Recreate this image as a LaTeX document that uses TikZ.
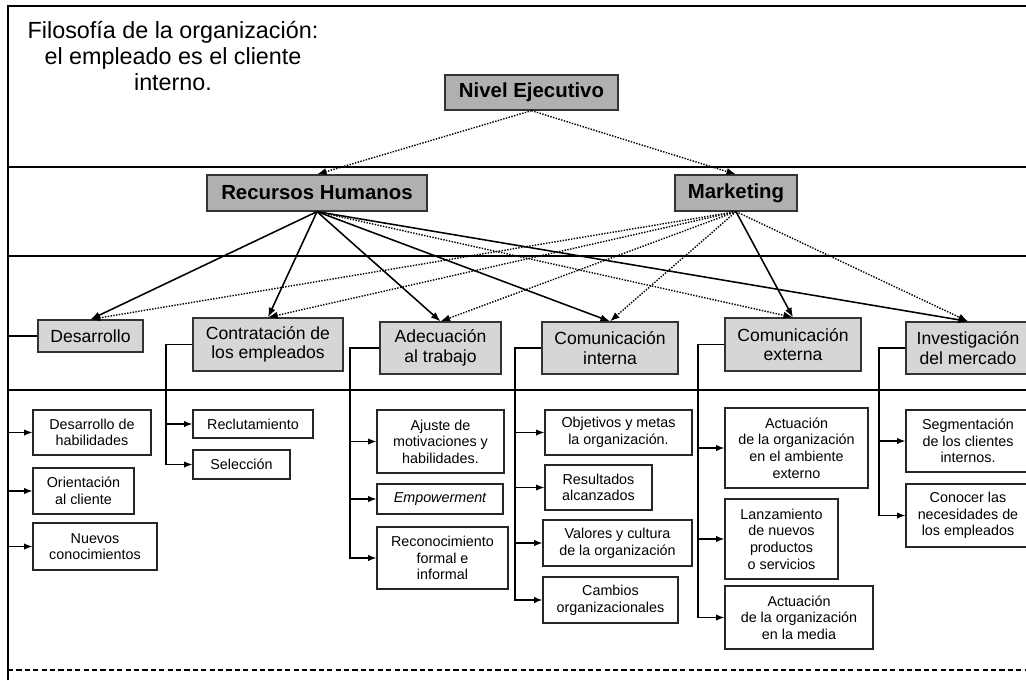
\documentclass[tikz,border=0pt]{standalone}
\usepackage{fontspec}
\setmainfont{Liberation Sans}
\usetikzlibrary{arrows.meta}

\begin{document}
\begin{tikzpicture}[x=0.025cm,y=-0.025cm,
    nivelbox/.style={draw=black!80, fill=gray!62, line width=0.9pt, font=\bfseries\fontsize{14.5}{16}\selectfont, inner sep=1pt},
    areabox/.style={draw=black!80, fill=gray!32, line width=0.9pt, align=center, font=\fontsize{12.5}{13.9}\selectfont, inner sep=1pt},
    itembox/.style={draw=black!85, fill=white, line width=0.8pt, align=center, font=\fontsize{10.2}{11.8}\selectfont, inner sep=1pt},
    sz/.style 2 args={minimum width=#1*0.025cm, minimum height=#2*0.025cm},
    flecha/.style={-{Latex[length=2.4mm,width=1.8mm]}, line width=1.1pt},
    punteada/.style={-{Latex[length=2.4mm,width=1.8mm]}, densely dotted, line width=1pt},
    rama/.style={-{Latex[length=2.1mm,width=1.6mm]}, line width=0.9pt}]
    \useasboundingbox (0,0) rectangle (1026,680);
    \clip (0,0) rectangle (1026,680);

    % marco y franjas
    \draw[line width=1.3pt] (8,680) -- (8,6) -- (1030,6);
    \draw[line width=0.9pt] (8,167) -- (1030,167);
    \draw[line width=0.9pt] (8,256) -- (1030,256);
    \draw[line width=0.9pt] (8,390) -- (1030,390);
    \draw[line width=0.9pt, dash pattern=on 1.3mm off 0.8mm] (8,670) -- (1030,670);

    \node (filo) [align=center, font=\fontsize{16.6}{18.4}\selectfont] at (173,56) {Filosofía de la organización:\\ el empleado es el cliente\\ interno.};

    \node (nivel) [nivelbox, sz={173}{35}] at (531.5,92.5) {Nivel Ejecutivo};
    \node (rh) [nivelbox, sz={220}{36}] at (317,193) {Recursos Humanos};
    \node (mkt) [nivelbox, sz={122}{36}] at (736,193) {Marketing};

    \node (des) [areabox, sz={105}{32}] at (90.5,336) {Desarrollo};
    \node (con) [areabox, sz={150}{53}] at (268,344.5) {Contratación de\\ los empleados};
    \node (ade) [areabox, sz={121}{52}] at (440.5,348) {Adecuación\\ al trabajo};
    \node (cint) [areabox, sz={136}{52}] at (610,348) {Comunicación\\ interna};
    \node (cext) [areabox, sz={136}{53}] at (793,344.5) {Comunicación\\ externa};
    \node (inv) [areabox, sz={124}{52}] at (968,348) {Investigación\\ del mercado};

    \node (dh) [itembox, sz={118}{45}] at (92,432.5) {Desarrollo de\\ habilidades};
    \node (oc) [itembox, sz={101}{46}] at (83.5,491) {Orientación\\ al cliente};
    \node (nc) [itembox, sz={124}{47}] at (95,546.5) {Nuevos\\ conocimientos};
    \node (rec) [itembox, sz={120}{28}] at (253,424) {Reclutamiento};
    \node (sel) [itembox, sz={97}{29}] at (241.5,464.5) {Selección};
    \node (aju) [itembox, sz={127}{63}] at (440.5,441.5) {Ajuste de\\ motivaciones y\\ habilidades.};
    \node (emp) [itembox, sz={126}{30}] at (440,499) {\itshape Empowerment};
    \node (rfi) [itembox, sz={131}{62}] at (442.5,558) {Reconocimiento\\ formal e\\ informal};
    \node (obj) [itembox, sz={147}{45}] at (618.5,432.5) {Objetivos y metas\\ la organización.};
    \node (res) [itembox, sz={107}{45}] at (598.5,487.5) {Resultados\\ alcanzados};
    \node (val) [itembox, sz={149}{46}] at (617.5,543) {Valores y cultura\\ de la organización};
    \node (cam) [itembox, sz={135}{46}] at (610.5,600) {Cambios\\ organizacionales};
    \node (aae) [itembox, sz={143}{80}] at (796.5,448) {Actuación\\ de la organización\\ en el ambiente\\ externo};
    \node (lan) [itembox, sz={113}{80}] at (781.5,539) {Lanzamiento\\ de nuevos\\ productos\\ o servicios};
    \node (aam) [itembox, sz={148}{63}] at (799,617.5) {Actuación\\ de la organización\\ en la media};
    \node (seg) [itembox, sz={124}{62}] at (968,441) {Segmentación\\ de los clientes\\ internos.};
    \node (cnn) [itembox, sz={124}{63}] at (968,515.5) {Conocer las\\ necesidades de\\ los empleados};

    \draw[punteada] (nivel.south) -- (rh.north);
    \draw[punteada] (nivel.south) -- (mkt.north);

    \draw[flecha] (rh.south) -- (des.north);
    \draw[flecha] (rh.south) -- (con.north);
    \draw[flecha] (rh.south) -- (ade.north);
    \draw[flecha] (rh.south) -- (cint.north);
    \draw[punteada] (rh.south) -- (cext.north);
    \draw[flecha] (rh.south) -- (inv.north);

    \draw[punteada] (mkt.south) -- (des.north);
    \draw[punteada] (mkt.south) -- (con.north);
    \draw[punteada] (mkt.south) -- (ade.north);
    \draw[punteada] (mkt.south) -- (cint.north);
    \draw[flecha] (mkt.south) -- (cext.north);
    \draw[punteada] (mkt.south) -- (inv.north);

    % ramas verticales
    \coordinate (railA) at (8,0);
    \coordinate (railB) at (166,0);
    \coordinate (railC) at (350,0);
    \coordinate (railD) at (515,0);
    \coordinate (railE) at (698,0);
    \coordinate (railF) at (879,0);

    \draw[rama] (des.west) -| (railA |- dh) -- (dh.west);
    \draw[rama] (des.west) -| (railA |- oc) -- (oc.west);
    \draw[rama] (des.west) -| (railA |- nc) -- (nc.west);

    \draw[rama] (con.west) -| (railB |- rec) -- (rec.west);
    \draw[rama] (con.west) -| (railB |- sel) -- (sel.west);

    \draw[rama] (ade.west) -| (railC |- aju) -- (aju.west);
    \draw[rama] (ade.west) -| (railC |- emp) -- (emp.west);
    \draw[rama] (ade.west) -| (railC |- rfi) -- (rfi.west);

    \draw[rama] (cint.west) -| (railD |- obj) -- (obj.west);
    \draw[rama] (cint.west) -| (railD |- res) -- (res.west);
    \draw[rama] (cint.west) -| (railD |- val) -- (val.west);
    \draw[rama] (cint.west) -| (railD |- cam) -- (cam.west);

    \draw[rama] (cext.west) -| (railE |- aae) -- (aae.west);
    \draw[rama] (cext.west) -| (railE |- lan) -- (lan.west);
    \draw[rama] (cext.west) -| (railE |- aam) -- (aam.west);

    \draw[rama] (inv.west) -| (railF |- seg) -- (seg.west);
    \draw[rama] (inv.west) -| (railF |- cnn) -- (cnn.west);
\end{tikzpicture}
\end{document}
